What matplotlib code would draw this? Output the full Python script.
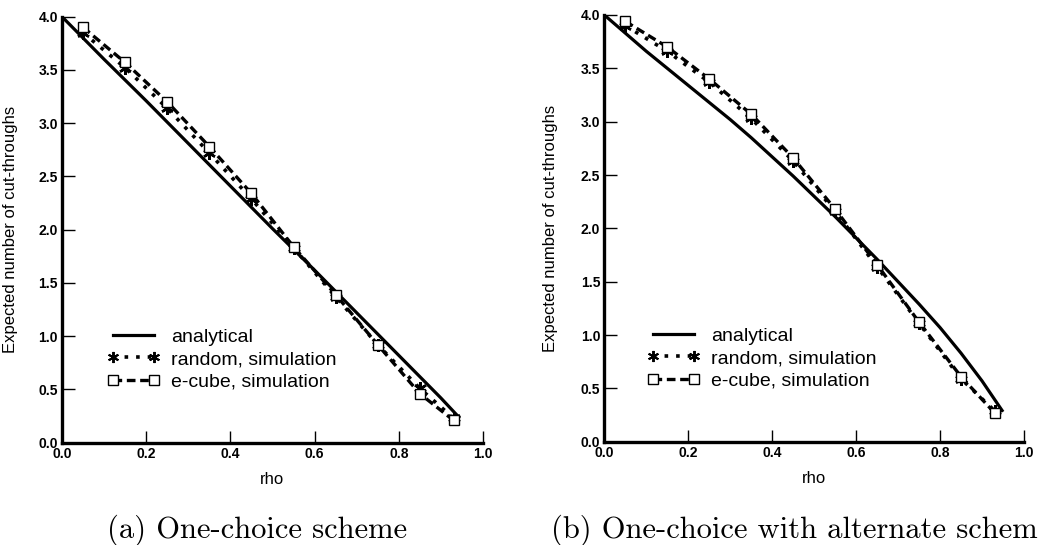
import matplotlib
matplotlib.use("Agg")
import matplotlib.pyplot as plt
from matplotlib.lines import Line2D

# --- data ---
rho_sim = [0.05, 0.15, 0.25, 0.35, 0.45, 0.55, 0.65, 0.75, 0.85, 0.93]

# (a) one-choice scheme
a_rho = [0.0, 0.1, 0.2, 0.3, 0.4, 0.5, 0.6, 0.7, 0.8, 0.9, 0.945]
a_analytical = [4.0, 3.60, 3.21, 2.81, 2.41, 2.01, 1.62, 1.22, 0.82, 0.42, 0.23]
a_random = [3.85, 3.52, 3.14, 2.72, 2.29, 1.83, 1.37, 0.92, 0.51, 0.23]
a_ecube = [3.90, 3.57, 3.20, 2.78, 2.34, 1.84, 1.39, 0.92, 0.46, 0.21]

# (b) one-choice with alternate scheme
b_rho = [0.0, 0.05, 0.1, 0.15, 0.2, 0.25, 0.3, 0.35, 0.4, 0.45,
         0.5, 0.55, 0.6, 0.65, 0.7, 0.75, 0.8, 0.85, 0.9, 0.95]
b_analytical = [4.0, 3.83, 3.66, 3.50, 3.34, 3.18, 3.02, 2.85, 2.67, 2.49,
                2.30, 2.11, 1.91, 1.71, 1.50, 1.29, 1.07, 0.83, 0.57, 0.28]
b_random = [3.90, 3.66, 3.37, 3.03, 2.63, 2.16, 1.64, 1.11, 0.59, 0.29]
b_ecube = [3.94, 3.70, 3.40, 3.07, 2.66, 2.18, 1.66, 1.12, 0.61, 0.27]

captions = ["(a) One-choice scheme", "(b) One-choice with alternate scheme"]
xticks = [0.0, 0.2, 0.4, 0.6, 0.8, 1.0]
yticks = [0.0, 0.5, 1.0, 1.5, 2.0, 2.5, 3.0, 3.5, 4.0]

sans = "Liberation Sans"
star = (6, 2, 0)
dot_ls = (0, (1.0, 2.2))
dash_ls = (0, (2.6, 1.4))

fig = plt.figure(figsize=(10.38, 5.45), dpi=100)
ax_a = fig.add_axes([0.0597, 0.1877, 0.4056, 0.7817])
ax_b = fig.add_axes([0.5822, 0.1895, 0.4043, 0.7830])

panels = [
    (ax_a, a_rho, a_analytical, a_random, a_ecube, (-0.1045, 0.5), 0.075),
    (ax_b, b_rho, b_analytical, b_random, b_ecube, (-0.110, 0.5), 0.070),
]

for ax, rho, ana, rnd, ecb, ylab_xy, leg_x in panels:
    ax.plot(rho, ana, color="black", lw=2.3, solid_capstyle="butt", zorder=3)
    ax.plot(rho_sim, rnd, color="black", lw=2.6, linestyle=dot_ls,
            marker=star, markersize=9, markeredgewidth=1.8, zorder=4)
    ax.plot(rho_sim, ecb, color="black", lw=2.4, linestyle=dash_ls,
            marker="s", markersize=7, markerfacecolor="white",
            markeredgecolor="black", markeredgewidth=1.0, zorder=5)

    ax.set_xlim(0, 1)
    ax.set_ylim(0, 4)
    ax.set_xticks(xticks)
    ax.set_yticks(yticks)
    ax.set_xticklabels([f"{v:.1f}" for v in xticks])
    ax.set_yticklabels([f"{v:.1f}" for v in yticks])
    for s in ["top", "right"]:
        ax.spines[s].set_visible(False)
    for s in ["left", "bottom"]:
        ax.spines[s].set_linewidth(2.4)
    ax.tick_params(direction="in", length=9, width=1.0, pad=3)
    for lab in ax.get_xticklabels() + ax.get_yticklabels():
        lab.set_fontfamily(sans)
        lab.set_fontweight("bold")
        lab.set_fontsize(10)

    ax.set_ylabel("Expected number of cut-throughs", fontfamily=sans, fontsize=12)
    ax.yaxis.set_label_coords(*ylab_xy)
    ax.set_xlabel("rho", fontfamily=sans, fontsize=12)
    ax.xaxis.set_label_coords(0.5, -0.068)

    handles = [
        Line2D([], [], color="black", lw=2.3),
        Line2D([], [], color="black", lw=2.6, linestyle=dot_ls, marker=star,
               markersize=8, markeredgewidth=1.4),
        Line2D([], [], color="black", lw=2.4, linestyle=dash_ls, marker="s",
               markersize=7, markerfacecolor="white", markeredgewidth=1.0),
    ]
    labels = ["analytical", "random, simulation", "e-cube, simulation"]
    ax.legend(handles, labels, loc="lower left", bbox_to_anchor=(leg_x, 0.09),
              frameon=False, numpoints=2, handlelength=2.7, handletextpad=0.6,
              labelspacing=0.25, borderpad=0.2,
              prop={"family": sans, "size": 14})

fig.text(107 / 1038, 7 / 545, captions[0], family="cmr10", fontsize=22, va="baseline")
fig.text(551 / 1038, 7 / 545, captions[1], family="cmr10", fontsize=22, va="baseline")

fig.savefig("out.png", dpi=100)
